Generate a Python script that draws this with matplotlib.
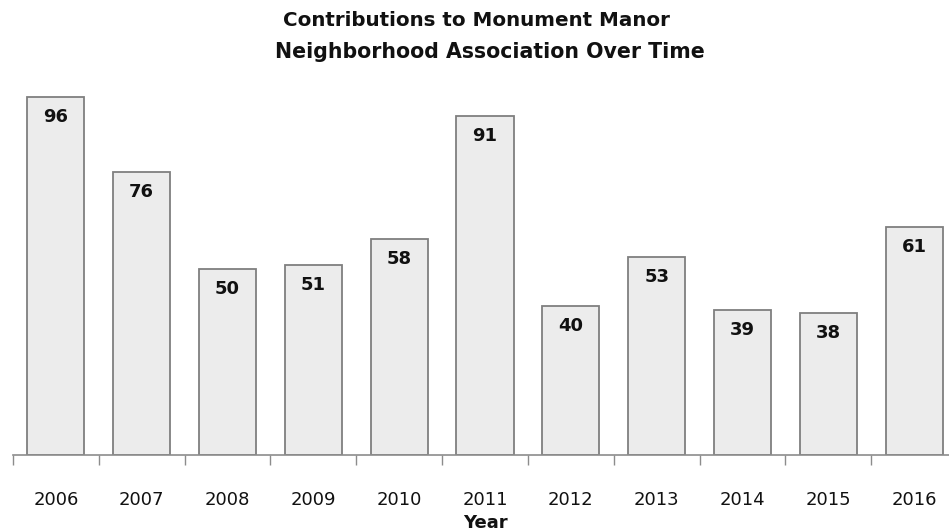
import matplotlib
matplotlib.use("Agg")
import matplotlib.pyplot as plt
import numpy as np

years = ["2006", "2007", "2008", "2009", "2010", "2011", "2012", "2013", "2014", "2015", "2016"]
contributions = [96, 76, 50, 51, 58, 91, 40, 53, 39, 38, 61]

W, H = 949, 531
fig = plt.figure(figsize=(W / 100, H / 100), dpi=100)
# axes: x from 13px to 957px, bottom at y=455px, 3.73px per unit
px_per_unit = 3.73
ymax = 110
ax = fig.add_axes([13 / W, (H - 455) / H, (957 - 13) / W, ymax * px_per_unit / H])

x = np.arange(len(years))
bars = ax.bar(x, contributions, width=0.665, color="#ececec", edgecolor="#7f7f7f", linewidth=1.3, zorder=2)
ax.set_xlim(-0.5, len(years) - 0.5)
ax.set_ylim(0, ymax)

for xi, v in zip(x, contributions):
    ax.annotate(str(v), (xi, v), xytext=(0, -20), textcoords="offset pixels",
                ha="center", va="center", fontsize=13, fontweight="bold", color="#111111")

for s in ["top", "right", "left"]:
    ax.spines[s].set_visible(False)
ax.spines["bottom"].set_color("#8c8c8c")
ax.spines["bottom"].set_linewidth(1.2)
ax.set_yticks([])
ax.set_xticks(x)
ax.set_xticklabels(years, fontsize=13, color="#111111")
ax.tick_params(axis="x", which="major", length=0, pad=26)
ax.set_xticks(np.arange(-0.5, len(years), 1.0), minor=True)
ax.tick_params(axis="x", which="minor", length=7, width=1.0, color="#8c8c8c")

fig.text(476 / W, 1 - 20 / H, "Contributions to Monument Manor", ha="center", va="center",
         fontsize=14.3, fontweight="bold", color="#111111")
fig.text(490 / W, 1 - 52 / H, "Neighborhood Association Over Time", ha="center", va="center",
         fontsize=14.8, fontweight="bold", color="#111111")
fig.text(485 / W, 1 - 523 / H, "Year", ha="center", va="center",
         fontsize=13, fontweight="bold", color="#111111")

fig.savefig("out.png", dpi=100)
